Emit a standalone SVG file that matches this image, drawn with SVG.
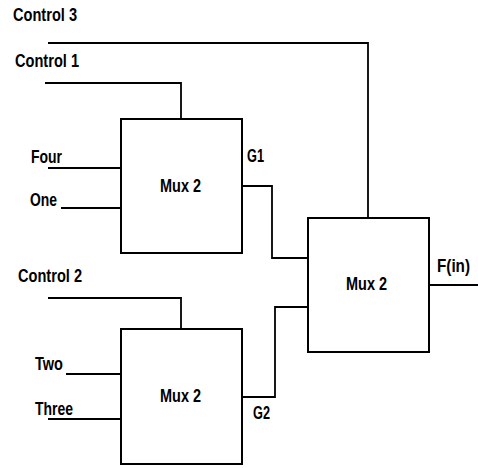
<svg xmlns="http://www.w3.org/2000/svg" width="478" height="468" viewBox="0 0 478 468">
<style>
text{font-family:"Liberation Sans",Arial,sans-serif;font-weight:bold;font-size:18px;fill:#000}
.box{fill:#fff;stroke:#000;stroke-width:2}
.w{fill:none;stroke:#000;stroke-width:1.8}
</style>
<rect width="478" height="468" fill="#fff"/>
<g id="connectors">
<polyline class="w" points="48,43 368,43 368,218"/>
<polyline class="w" points="45,83 181,83 181,119"/>
<line class="w" x1="48" y1="168" x2="121" y2="168"/>
<line class="w" x1="61" y1="208" x2="121" y2="208"/>
<polyline class="w" points="242,186 272,186 272,258 308,258"/>
<polyline class="w" points="48,298 181,298 181,329"/>
<line class="w" x1="66" y1="374" x2="121" y2="374"/>
<line class="w" x1="48" y1="419" x2="121" y2="419"/>
<polyline class="w" points="242,397 275,397 275,307 308,307"/>
<line class="w" x1="429" y1="285" x2="478" y2="285"/>
</g>
<g id="mux1">
<rect class="box" x="121" y="119" width="121" height="134"/>
<text x="160" y="192" textLength="41" lengthAdjust="spacingAndGlyphs">Mux 2</text>
</g>
<g id="mux2">
<rect class="box" x="121" y="329" width="121" height="135"/>
<text x="160" y="402" textLength="41" lengthAdjust="spacingAndGlyphs">Mux 2</text>
</g>
<g id="mux3">
<rect class="box" x="308" y="218" width="121" height="134"/>
<text x="346" y="290" textLength="41" lengthAdjust="spacingAndGlyphs">Mux 2</text>
</g>
<g id="labels">
<text x="13" y="21" textLength="64" lengthAdjust="spacingAndGlyphs">Control 3</text>
<text x="15" y="67" textLength="64" lengthAdjust="spacingAndGlyphs">Control 1</text>
<text x="31" y="163" textLength="31" lengthAdjust="spacingAndGlyphs">Four</text>
<text x="30" y="206" textLength="27" lengthAdjust="spacingAndGlyphs">One</text>
<text x="247" y="162" textLength="17" lengthAdjust="spacingAndGlyphs">G1</text>
<text x="18" y="282" textLength="64" lengthAdjust="spacingAndGlyphs">Control 2</text>
<text x="35" y="370" textLength="28" lengthAdjust="spacingAndGlyphs">Two</text>
<text x="35" y="415" textLength="38" lengthAdjust="spacingAndGlyphs">Three</text>
<text x="253" y="419" textLength="17" lengthAdjust="spacingAndGlyphs">G2</text>
<text x="437" y="272" textLength="33" lengthAdjust="spacingAndGlyphs">F(in)</text>
</g>
</svg>
